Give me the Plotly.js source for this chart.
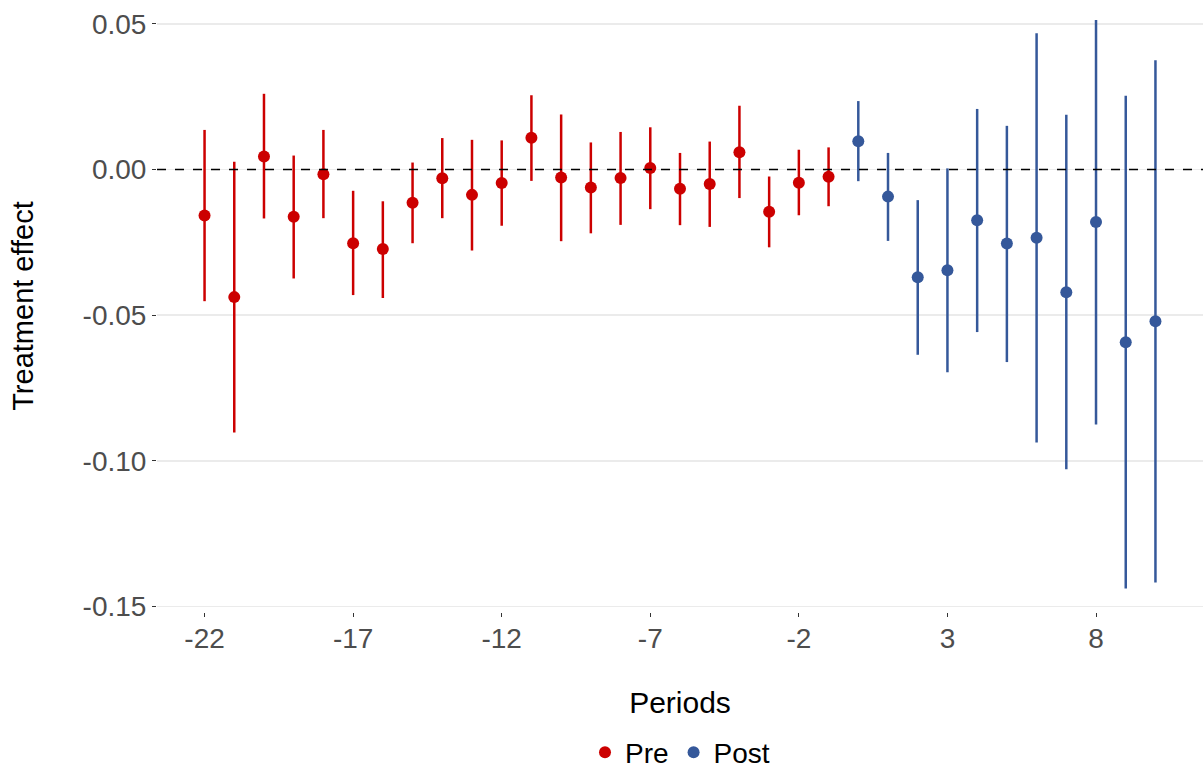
<!DOCTYPE html>
<html>
<head>
<meta charset="utf-8">
<script src="https://cdn.plot.ly/plotly-3.0.1.min.js"></script>
<style>html,body{margin:0;padding:0;background:#fff;}#chart{width:1203px;height:771px;}</style>
</head>
<body>
<div id="chart"></div>
<script>
// Pre-treatment periods
const prePeriods = [-22,-21,-20,-19,-18,-17,-16,-15,-14,-13,-12,-11,-10,-9,-8,-7,-6,-5,-4,-3,-2,-1];
const preEst   = [-0.0158,-0.0438,0.0045,-0.0162,-0.0016,-0.0253,-0.0273,-0.0114,-0.0030,-0.0087,-0.0046,0.0109,-0.0027,-0.0062,-0.0029,0.0005,-0.0066,-0.0050,0.0059,-0.0145,-0.0045,-0.0025];
const preUpper = [0.0136,0.0027,0.0260,0.0048,0.0136,-0.0073,-0.0109,0.0024,0.0108,0.0102,0.0100,0.0255,0.0189,0.0093,0.0129,0.0145,0.0057,0.0096,0.0219,-0.0024,0.0068,0.0076];
const preLower = [-0.0452,-0.0903,-0.0168,-0.0374,-0.0167,-0.0431,-0.0441,-0.0253,-0.0167,-0.0278,-0.0193,-0.0039,-0.0246,-0.0219,-0.0190,-0.0136,-0.0191,-0.0197,-0.0098,-0.0267,-0.0157,-0.0126];
// Post-treatment periods
const postPeriods = [0,1,2,3,4,5,6,7,8,9,10];
const postEst   = [0.0097,-0.0093,-0.0370,-0.0346,-0.0174,-0.0254,-0.0234,-0.0421,-0.0180,-0.0593,-0.0521];
const postUpper = [0.0235,0.0057,-0.0105,0.0004,0.0208,0.0150,0.0468,0.0188,0.0513,0.0253,0.0375];
const postLower = [-0.0040,-0.0245,-0.0636,-0.0696,-0.0558,-0.0661,-0.0937,-0.1029,-0.0875,-0.1438,-0.1418];
// Axis ticks
const xTickVals = [-22,-17,-12,-7,-2,3,8];
const xTickText = ['-22','-17','-12','-7','-2','3','8'];
const yTickVals = [-0.15,-0.10,-0.05,0.00,0.05];
const yTickText = ['-0.15','-0.10','-0.05','0.00','0.05'];

const RED = '#cc0000', BLUE = '#35589a';
function diff(a, b) { return a.map((v, i) => v - b[i]); }

const traces = [
  {
    type: 'scatter', mode: 'markers', name: 'Pre',
    x: prePeriods, y: preEst,
    marker: {color: RED, size: 12},
    error_y: {type: 'data', symmetric: false, array: diff(preUpper, preEst), arrayminus: diff(preEst, preLower),
              color: RED, thickness: 2.5, width: 0}
  },
  {
    type: 'scatter', mode: 'markers', name: 'Post',
    x: postPeriods, y: postEst,
    marker: {color: BLUE, size: 12},
    error_y: {type: 'data', symmetric: false, array: diff(postUpper, postEst), arrayminus: diff(postEst, postLower),
              color: BLUE, thickness: 2.5, width: 0}
  }
];

const font = "Liberation Sans, Arial, sans-serif";
const layout = {
  width: 1203, height: 771,
  margin: {l: 157, r: 0, t: 0, b: 159},
  paper_bgcolor: '#fff', plot_bgcolor: '#fff',
  font: {family: font, color: '#000'},
  showlegend: true,
  legend: {orientation: 'h', xref: 'paper', x: 0.5, xanchor: 'center',
           yref: 'container', y: 0.024, yanchor: 'middle',
           font: {size: 28, color: '#000', family: font}, itemwidth: 30, tracegroupgap: 0},
  xaxis: {
    range: [-23.6, 11.6], showgrid: false, zeroline: false, showline: false,
    tickmode: 'array', tickvals: xTickVals, ticktext: xTickText,
    ticks: 'outside', ticklen: 4, tickwidth: 1, tickcolor: '#333',
    ticklabelstandoff: -3,
    tickfont: {size: 28, color: '#4d4d4d', family: font},
    title: {text: 'Periods', font: {size: 30, color: '#000', family: font}, standoff: 39}
  },
  yaxis: {
    range: [-0.1519, 0.0582], showgrid: true, gridcolor: '#ebebeb', gridwidth: 1.5,
    zeroline: false, showline: false,
    tickmode: 'array', tickvals: yTickVals, ticktext: yTickText,
    ticks: 'outside', ticklen: 4, tickwidth: 1, tickcolor: '#333',
    tickfont: {size: 28, color: '#4d4d4d', family: font},
    title: {text: 'Treatment effect', font: {size: 29, color: '#000', family: font}, standoff: 40}
  },
  shapes: [{type: 'line', xref: 'paper', x0: 0, x1: 1, yref: 'y', y0: 0, y1: 0,
            line: {color: '#000', width: 1.5, dash: 'dash'}, layer: 'above'}]
};

Plotly.newPlot('chart', traces, layout, {displayModeBar: false, staticPlot: true});
</script>
</body>
</html>
